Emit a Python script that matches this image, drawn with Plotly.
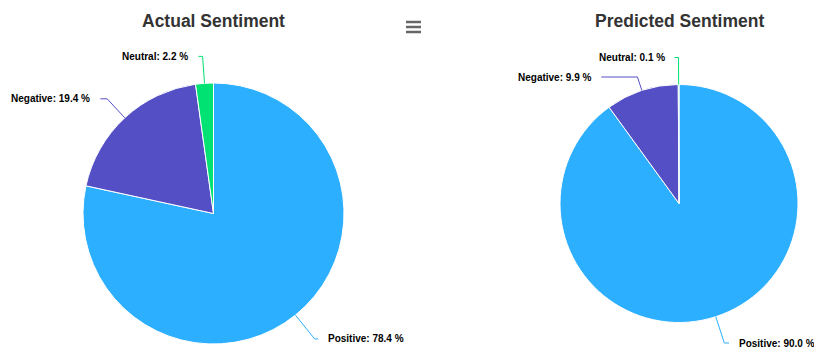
import math
import plotly.graph_objects as go

# ---- data ----
labels = ["Positive", "Negative", "Neutral"]
actual_values = [78.4, 19.4, 2.2]
predicted_values = [90.0, 9.9, 0.1]
colors = ["#2caffe", "#544fc5", "#00e272"]
titles = ["Actual Sentiment", "Predicted Sentiment"]

# ---- layout geometry (pixels) ----
W, H = 814, 352
pie_geom = [(213.5, 213.5, 130.5), (679.0, 203.5, 119.0)]  # cx, cy, r
DIST = 30
FONT = "Liberation Sans, Arial, Helvetica, sans-serif"


def px(x):
    return x / W


def py(y):
    return 1 - y / H


fig = go.Figure()
shapes = []
annotations = []

for values, title, (cx, cy, r) in zip([actual_values, predicted_values], titles, pie_geom):
    fig.add_trace(go.Pie(
        labels=labels, values=values, sort=False, direction="clockwise", rotation=0,
        marker=dict(colors=colors, line=dict(color="#ffffff", width=1)),
        textinfo="none", showlegend=False,
        hovertemplate="%{label}: %{percent}<extra></extra>",
        domain=dict(x=[px(cx - r), px(cx + r)], y=[py(cy + r), py(cy - r)]),
    ))
    annotations.append(dict(
        x=px(cx), y=py(21), xref="paper", yref="paper", showarrow=False,
        text=f"<b>{title}</b>", font=dict(family=FONT, size=17.5, color="#333333"),
        xanchor="center", yanchor="middle",
    ))

    total = sum(values)
    cum = 0.0
    items = []
    for lab, v, col in zip(labels, values, colors):
        theta = math.radians((cum + v / 2) / total * 360)
        cum += v
        s, c = math.sin(theta), math.cos(theta)
        side = 1 if s >= 0 else -1
        y_pre = cy - (r + DIST) * c
        items.append(dict(lab=lab, v=v, col=col, s=s, c=c, side=side, y=y_pre))

    # avoid overlaps per side
    for side in (1, -1):
        group = sorted([it for it in items if it["side"] == side], key=lambda it: it["y"])
        prev = None
        for it in group:
            if prev is not None and it["y"] < prev + 19.5:
                it["y"] = prev + 19.5
            prev = it["y"]

    for it in items:
        s, c, side = it["s"], it["c"], it["side"]
        dy = it["y"] - cy
        lx = cx + side * math.sqrt(max(0.0, (r + DIST) ** 2 - dy ** 2))
        yd = it["y"] + (3 if dy < 0 else 0.5)
        yd = min(yd, H - 9)
        P = (cx + r * s, cy - r * c)
        uy = -c
        if abs(uy) > 1e-6:
            t = (yd - P[1]) / uy
            B = (P[0] + t * s, yd)
        else:
            B = P
        E = (lx + side * 4, yd)
        path = (f"M {px(P[0])} {py(P[1])} L {px(B[0])} {py(B[1])} "
                f"L {px(E[0])} {py(E[1])}")
        shapes.append(dict(type="path", xref="paper", yref="paper", path=path,
                           line=dict(color=it["col"], width=1)))
        annotations.append(dict(
            x=px(lx + side * 13), y=py(yd), xref="paper", yref="paper", showarrow=False,
            text=f"<b>{it['lab']}: {it['v']:.1f} %</b>", borderpad=0,
            font=dict(family=FONT, size=10, color="#000000"),
            xanchor="left" if side > 0 else "right", yanchor="middle",
        ))

# hamburger (export menu) icon
for yy in (22, 27, 32):
    shapes.append(dict(type="line", xref="paper", yref="paper",
                       x0=px(406), x1=px(421), y0=py(yy), y1=py(yy),
                       line=dict(color="#666666", width=2.5)))

fig.update_layout(
    width=W, height=H, autosize=False,
    margin=dict(l=0, r=0, t=0, b=0),
    paper_bgcolor="#ffffff", plot_bgcolor="#ffffff",
    shapes=shapes, annotations=annotations,
    font=dict(family=FONT),
)

fig.write_html("out.html", config={"displayModeBar": False})
